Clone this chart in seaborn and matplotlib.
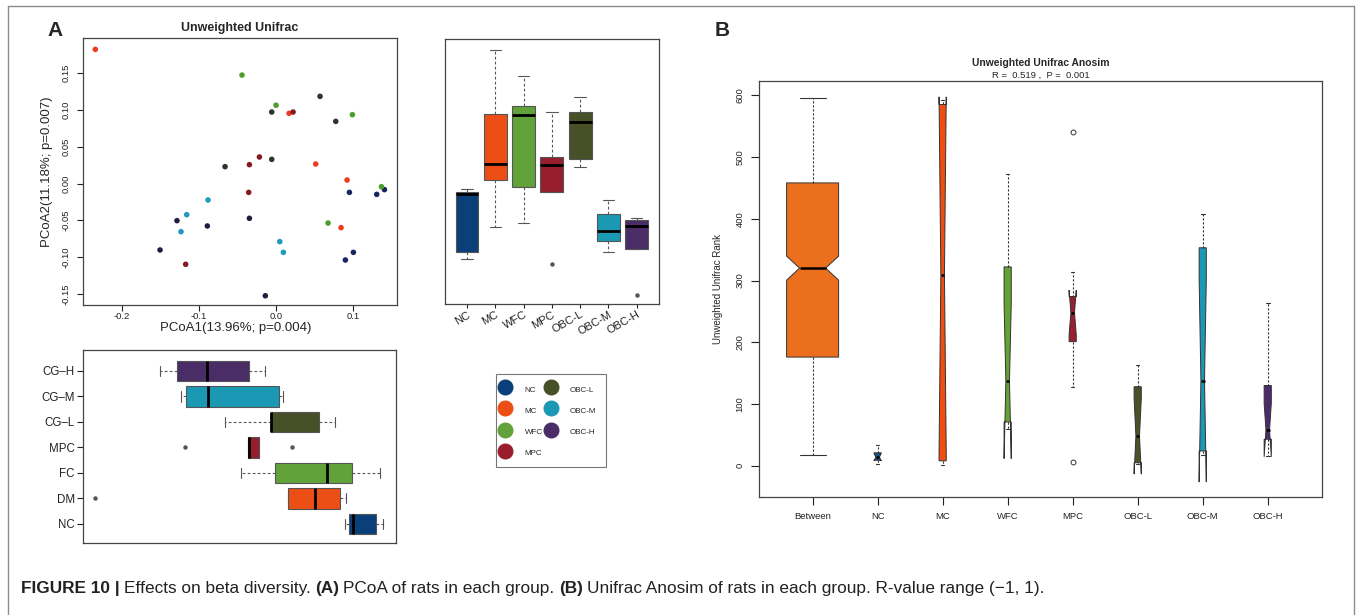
import numpy as np
import pandas as pd
import matplotlib
matplotlib.use('Agg')
import matplotlib.pyplot as plt
from matplotlib.lines import Line2D
from matplotlib.ticker import FormatStrFormatter
import seaborn as sns

sns.set_style("ticks")
plt.rcParams['font.family'] = ['Liberation Sans', 'DejaVu Sans']

# ---- data ----------------------------------------------------------------
groups = ['NC', 'MC', 'WFC', 'MPC', 'OBC-L', 'OBC-M', 'OBC-H']

# PCoA coordinates (5 rats per group)
nc_x = [0.1407, 0.1307, 0.0952, 0.1004, 0.0900]
nc_y = [-0.0083, -0.0147, -0.0120, -0.0932, -0.1036]
mc_x = [-0.2346, 0.0169, 0.0515, 0.0922, 0.0844]
mc_y = [0.1816, 0.0950, 0.0264, 0.0047, -0.0598]
wfc_x = [-0.0442, 0.0000, 0.0991, 0.1368, 0.0675]
wfc_y = [0.1468, 0.1060, 0.0932, -0.0043, -0.0535]
mpc_x = [0.0221, -0.0216, -0.0346, -0.0355, -0.1173]
mpc_y = [0.0968, 0.0359, 0.0255, -0.0120, -0.1094]
obcl_x = [0.0571, -0.0056, 0.0775, -0.0056, -0.0662]
obcl_y = [0.1180, 0.0968, 0.0841, 0.0327, 0.0228]
obcm_x = [-0.0883, -0.1160, -0.1234, 0.0048, 0.0095]
obcm_y = [-0.0223, -0.0422, -0.0652, -0.0787, -0.0932]
obch_x = [-0.1286, -0.0892, -0.0346, -0.1506, -0.0139]
obch_y = [-0.0503, -0.0575, -0.0471, -0.0900, -0.1520]

# bottom-left panel uses other names for the same groups
lower_order = ['OBC-H', 'OBC-M', 'OBC-L', 'MPC', 'WFC', 'MC', 'NC']
lower_labels = ['CG\u2013H', 'CG\u2013M', 'CG\u2013L', 'MPC', 'FC', 'DM', 'NC']

# Anosim rank boxes (panel B)
anosim_labels = ['Between', 'NC', 'MC', 'WFC', 'MPC', 'OBC-L', 'OBC-M', 'OBC-H']
anosim_n = [525, 10, 10, 10, 10, 10, 10, 10]
anosim_med = [320, 14, 309, 137, 248, 48, 138, 58]
anosim_q1 = [176, 9, 8, 71, 201, 5, 24, 43]
anosim_q3 = [458, 21, 585, 322, 274, 128, 353, 130]
anosim_lo = [18, 3, 1, 60, 128, 3, 18, 16]
anosim_hi = [596, 33, 592, 473, 313, 164, 407, 263]
anosim_fliers = [[], [], [], [], [540, 6.5], [], [], []]

box_pal = {'NC': '#0b3f7a', 'MC': '#ec4f16', 'WFC': '#62a23a', 'MPC': '#981e2e',
           'OBC-L': '#475026', 'OBC-M': '#1a98b4', 'OBC-H': '#4a2c66'}
point_pal = {'NC': '#17265e', 'MC': '#ee3b1e', 'WFC': '#4c9e2c', 'MPC': '#861a22',
             'OBC-L': '#2d3524', 'OBC-M': '#1d9ac0', 'OBC-H': '#271a40'}
anosim_colors = ['#ec6f1e', '#1b4f8a', '#f04d10', '#64a233', '#9a1f2f',
                 '#4b5228', '#1c98b6', '#4d2b6a']

xs = [nc_x, mc_x, wfc_x, mpc_x, obcl_x, obcm_x, obch_x]
ys = [nc_y, mc_y, wfc_y, mpc_y, obcl_y, obcm_y, obch_y]
rows = []
for g, gx, gy in zip(groups, xs, ys):
    for a, b in zip(gx, gy):
        rows.append({'group': g, 'pcoa1': a, 'pcoa2': b})
df = pd.DataFrame(rows)

# ---- figure ----------------------------------------------------------------
W, H = 1358, 615
fig = plt.figure(figsize=(W / 100, H / 100), dpi=100)


def fx(px):
    return px / W


def fy(py):
    return 1 - py / H


def box(l, t, r, b):
    return [fx(l), fy(b), (r - l) / W, (b - t) / H]


spine_c = '#444444'


def frame(ax):
    for s in ax.spines.values():
        s.set_visible(True)
        s.set_color(spine_c)
        s.set_linewidth(0.9)
    ax.tick_params(colors='#222222', width=0.8)


XLIM = (-0.2506, 0.157)
YLIM = (-0.1645, 0.197)

# scatter
ax_sc = fig.add_axes(box(83, 38, 397, 305))
sns.scatterplot(data=df, x='pcoa1', y='pcoa2', hue='group', palette=point_pal,
                s=16, linewidth=0, legend=False, ax=ax_sc)
ax_sc.set_xlim(XLIM)
ax_sc.set_ylim(YLIM)
ax_sc.set_xticks([-0.2, -0.1, 0.0, 0.1])
ax_sc.set_yticks([-0.15, -0.10, -0.05, 0.0, 0.05, 0.10, 0.15])
ax_sc.xaxis.set_major_formatter(FormatStrFormatter('%.1f'))
ax_sc.yaxis.set_major_formatter(FormatStrFormatter('%.2f'))
ax_sc.tick_params(axis='x', labelsize=6.8, length=4, pad=1)
ax_sc.tick_params(axis='y', labelsize=6.8, length=4, pad=5)
for lab in ax_sc.get_yticklabels():
    lab.set_rotation(90)
    lab.set_va('center')
ax_sc.set_xlabel('')
ax_sc.set_ylabel('')
frame(ax_sc)
fig.text(fx(240), fy(28), 'Unweighted Unifrac', ha='center', va='center',
         fontsize=9, fontweight='bold')
fig.text(fx(236), fy(328), 'PCoA1(13.96%; p=0.004)', ha='center', va='center', fontsize=9.5)
fig.text(fx(47), fy(172), 'PCoA2(11.18%; p=0.007)', ha='center', va='center',
         fontsize=9.5, rotation=90)

box_kw = dict(saturation=1, linewidth=0.8, linecolor='#555555',
              whiskerprops={'linestyle': (0, (2.5, 2.0))},
              medianprops={'color': 'black', 'linewidth': 2},
              flierprops={'marker': 'o', 'markersize': 2.2,
                          'markerfacecolor': '#555555', 'markeredgecolor': '#555555'},
              legend=False)

# upper right: PCoA2 per group
ax_up = fig.add_axes(box(445, 39, 659, 304))
sns.boxplot(data=df, x='group', y='pcoa2', hue='group', order=groups, hue_order=groups,
            palette=box_pal, width=0.81, ax=ax_up, **box_kw)
ax_up.set_xlim(-0.78, 6.79)
ax_up.set_ylim(YLIM)
ax_up.set_yticks([])
ax_up.set_xlabel('')
ax_up.set_ylabel('')
ax_up.tick_params(axis='x', labelsize=8, length=3, pad=1)
for lab in ax_up.get_xticklabels():
    lab.set_rotation(30)
    lab.set_ha('right')
    lab.set_rotation_mode('anchor')
frame(ax_up)

# lower left: PCoA1 per group
ax_lo = fig.add_axes(box(83, 350, 396, 543))
sns.boxplot(data=df, x='pcoa1', y='group', hue='group', order=lower_order,
            hue_order=lower_order, palette=box_pal, orient='h', width=0.8, ax=ax_lo, **box_kw)
ax_lo.set_xlim(XLIM)
ax_lo.set_ylim(6.75, -0.82)
ax_lo.set_xticks([])
ax_lo.set_yticks(range(len(lower_labels)))
ax_lo.set_yticklabels(lower_labels)
ax_lo.tick_params(axis='y', labelsize=8.3, length=4, pad=2)
ax_lo.set_xlabel('')
ax_lo.set_ylabel('')
frame(ax_lo)

# legend
handles = [Line2D([], [], marker='o', ls='', markersize=10.5,
                  markerfacecolor=box_pal[g], markeredgecolor=box_pal[g]) for g in groups]
leg = fig.legend(handles, groups, ncol=2, loc='upper left',
                 bbox_to_anchor=(fx(496), fy(374)), frameon=True, fancybox=False,
                 edgecolor='#555555', fontsize=5.8, handlelength=0, handleheight=1.8,
                 handletextpad=2.4, columnspacing=1.0, labelspacing=1.2,
                 borderpad=1.15, borderaxespad=0)
leg.get_frame().set_linewidth(0.8)

# ---- panel B --------------------------------------------------------------
ax_b = fig.add_axes(box(759.3, 81, 1321.7, 497.3))
stats = []
for i, lab in enumerate(anosim_labels):
    half = 1.58 * (anosim_q3[i] - anosim_q1[i]) / np.sqrt(anosim_n[i])
    stats.append(dict(label=lab, med=anosim_med[i], q1=anosim_q1[i], q3=anosim_q3[i],
                      whislo=anosim_lo[i], whishi=anosim_hi[i],
                      cilo=anosim_med[i] - half, cihi=anosim_med[i] + half,
                      fliers=np.array(anosim_fliers[i], dtype=float)))
widths = 0.8 * np.sqrt(anosim_n) / np.sqrt(max(anosim_n))
bp = ax_b.bxp(stats, positions=np.arange(len(stats)), widths=widths, capwidths=widths * 0.5,
              shownotches=True, patch_artist=True, showfliers=True,
              boxprops=dict(edgecolor='#333333', linewidth=0.7),
              whiskerprops=dict(color='#333333', linestyle=(0, (2, 1.6)), linewidth=0.8),
              capprops=dict(color='#333333', linewidth=0.8),
              medianprops=dict(color='black', linewidth=1.8),
              flierprops=dict(marker='o', markersize=3.5, markerfacecolor='none',
                              markeredgecolor='#333333', markeredgewidth=0.7))
for patch, c in zip(bp['boxes'], anosim_colors):
    patch.set_facecolor(c)
ax_b.set_xlim(-0.82, 7.83)
ax_b.set_ylim(-51, 623)
ax_b.set_yticks([0, 100, 200, 300, 400, 500, 600])
ax_b.tick_params(axis='both', labelsize=6.8, length=5.5, width=0.8, colors='#222222')
ax_b.tick_params(axis='x', pad=5)
ax_b.tick_params(axis='y', pad=5)
for lab in ax_b.get_yticklabels():
    lab.set_rotation(90)
    lab.set_va('center')
frame(ax_b)
fig.text(fx(1040.5), fy(63), 'Unweighted Unifrac Anosim', ha='center', va='center',
         fontsize=7.4, fontweight='bold')
fig.text(fx(1040.5), fy(75), 'R =  0.519 ,  P =  0.001', ha='center', va='center', fontsize=6.8)
fig.text(fx(718), fy(289), 'Unweighted Unifrac Rank', ha='center', va='center',
         fontsize=7, rotation=90)

# panel letters
fig.text(fx(47), fy(30), 'A', ha='left', va='center', fontsize=15, fontweight='bold')
fig.text(fx(715), fy(30), 'B', ha='left', va='center', fontsize=15, fontweight='bold')

# caption
caption = [('FIGURE 10 |', 'bold'), ('Effects on beta diversity.', 'normal'),
           ('(A)', 'bold'), ('PCoA of rats in each group.', 'normal'),
           ('(B)', 'bold'),
           ('Unifrac Anosim of rats in each group. R-value range (\u22121, 1).', 'normal')]
renderer = fig.canvas.get_renderer()
cap_size = 12.45
cx = 21
for txt, wt in caption:
    t = fig.text(fx(cx), fy(588), txt, ha='left', va='center', fontsize=cap_size,
                 fontweight=wt, color='#222222')
    cx += t.get_window_extent(renderer=renderer).width + cap_size * 100 / 72 * 0.25

# outer frame of the figure
fc = '#8c8c8c'
fig.add_artist(Line2D([fx(8), fx(8)], [fy(6), 0], transform=fig.transFigure, color=fc, lw=1))
fig.add_artist(Line2D([fx(8), fx(1354)], [fy(6), fy(6)], transform=fig.transFigure, color=fc, lw=1))
fig.add_artist(Line2D([fx(1354), fx(1354)], [fy(6), 0], transform=fig.transFigure, color=fc, lw=1))

fig.savefig('out.png', dpi=100)
